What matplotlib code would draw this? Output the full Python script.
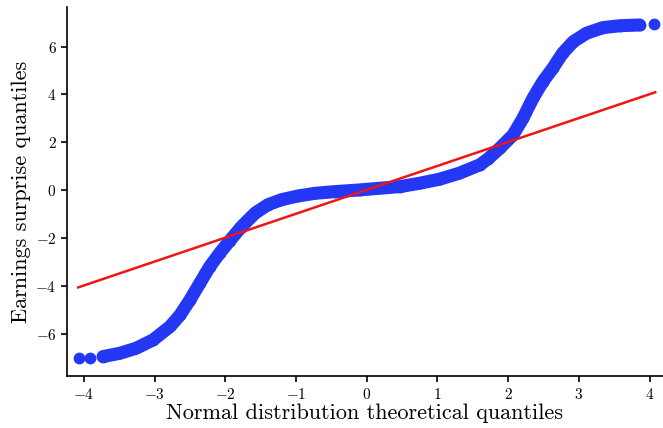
import numpy as np
import matplotlib
matplotlib.use("Agg")
import matplotlib.pyplot as plt

# QQ plot: theoretical vs sample quantiles
theo_q = [-4.07, -3.92, -3.73, -3.49, -3.26, -3.02, -2.78, -2.64, -2.50, -2.36,
          -2.22, -2.08, -1.94, -1.77, -1.58, -1.40, -1.21, -0.97, -0.73, -0.45,
          -0.10, 0.18, 0.47, 0.75, 1.03, 1.31, 1.60, 1.72, 1.88, 2.07,
          2.21, 2.35, 2.49, 2.63, 2.77, 2.92, 3.11, 3.34, 3.58, 3.86,
          4.06]
sample_q = [-7.02, -6.99, -6.95, -6.81, -6.60, -6.25, -5.69, -5.21, -4.58, -3.88,
            -3.19, -2.63, -2.12, -1.52, -0.96, -0.61, -0.40, -0.24, -0.13, -0.06,
            0.01, 0.08, 0.15, 0.29, 0.46, 0.71, 1.06, 1.32, 1.75, 2.31,
            3.01, 3.84, 4.53, 5.09, 5.72, 6.20, 6.56, 6.79, 6.87, 6.90,
            6.93]
ref_x = [-4.08, 4.08]
ref_y = [-4.06, 4.09]

blue = "#2337f5"
red = "#f01414"

plt.rcParams["font.family"] = "serif"
plt.rcParams["font.serif"] = ["cmr10", "DejaVu Serif"]
plt.rcParams["mathtext.fontset"] = "cm"
plt.rcParams["axes.formatter.use_mathtext"] = True

fig = plt.figure(figsize=(6.63, 4.28), dpi=100)
ax = fig.add_axes([0.101, 0.121, 0.899, 0.862])

# dense band of points: thick line through the body, single dots at the tails
ax.plot(theo_q[2:-1], sample_q[2:-1], color=blue, lw=9.4,
        solid_capstyle="round", solid_joinstyle="round", zorder=2)
ax.plot(theo_q, sample_q, "o", color=blue, ms=8.5, mec="none", zorder=2)
ax.plot(ref_x, ref_y, color=red, lw=1.8, zorder=3)

ax.set_xlim(-4.24, 4.19)
ax.set_ylim(-7.77, 7.64)
ax.set_xticks(range(-4, 5))
ax.set_yticks(range(-6, 7, 2))
ax.spines["top"].set_visible(False)
ax.spines["right"].set_visible(False)
ax.spines["left"].set_linewidth(1.2)
ax.spines["bottom"].set_linewidth(1.2)
ax.tick_params(direction="out", length=4, width=1.2, labelsize=11)
ax.set_xlabel("Normal distribution theoretical quantiles", fontsize=16, labelpad=1)
ax.set_ylabel("Earnings surprise quantiles", fontsize=16, labelpad=3)

fig.savefig("out.png", dpi=100)
